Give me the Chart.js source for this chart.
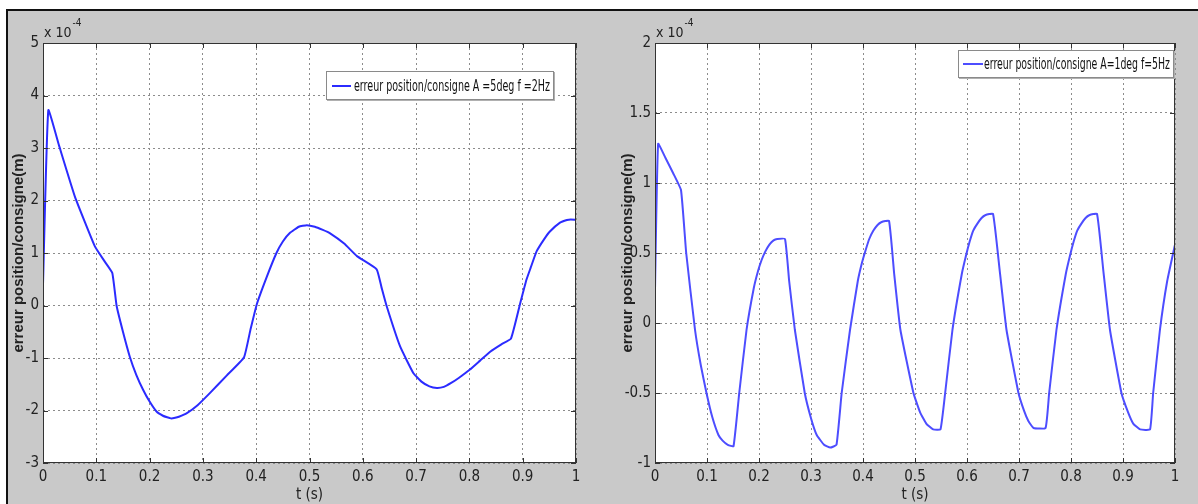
<!DOCTYPE html>
<html>
<head>
<meta charset="utf-8">
<script src="https://cdn.jsdelivr.net/npm/chart.js@4.4.1/dist/chart.umd.min.js"></script>
<style>
    html, body { margin: 0; padding: 0; background: #fff; }
    body { width: 1198px; height: 504px; position: relative; overflow: hidden;
           font-family: 'Liberation Sans Narrow', 'DejaVu Sans Condensed', 'Liberation Sans', Arial, sans-serif; }
    #frame { position: absolute; left: 6px; top: 9px; width: 1200px; height: 500px;
             background: #c9c9c9; border-left: 2px solid #111; border-top: 2px solid #111; }
    canvas { position: absolute; top: 0; }
    #chart1 { left: 0; }
    #chart2 { left: 600px; }
    .legend { position: absolute; background: #fff; border: 1px solid #8a8a8a;
              box-shadow: 1px 1px 0 #b0b0b0; white-space: nowrap; overflow: hidden; }
    .legend .sample { position: absolute; height: 2px; }
    .legend .txt { position: absolute; display: inline-block; transform-origin: 0 50%;
                   font-size: 16px; color: #111; line-height: 16px; }
</style>
</head>
<body>
<div id="frame"></div>
<canvas id="chart1" width="600" height="504" style="width:600px;height:504px"></canvas>
<canvas id="chart2" width="598" height="504" style="width:598px;height:504px"></canvas>
<div id="legend1" class="legend" style="left:326px;top:71px;width:226px;height:27px"></div>
<div id="legend2" class="legend" style="left:958px;top:50px;width:214px;height:26px"></div>
<script>
// valeurs (unite : x 10^-4 m)
var expLabel = "-4";
var xTicks = [0, 0.1, 0.2, 0.3, 0.4, 0.5, 0.6, 0.7, 0.8, 0.9, 1];
var yTicksLeft = [-3, -2, -1, 0, 1, 2, 3, 4, 5];
var yTicksRight = [-1, -0.5, 0, 0.5, 1, 1.5, 2];

var labelLeft = "erreur position/consigne A =5deg f =2Hz";
var tLeft = [0, 0.01, 0.03, 0.06, 0.0976, 0.115, 0.13, 0.138, 0.15, 0.163, 0.175, 0.188, 0.2, 0.213, 0.225,
    0.233, 0.24, 0.248, 0.255, 0.27, 0.29, 0.313, 0.345, 0.377, 0.389, 0.401, 0.42, 0.438, 0.45, 0.463, 0.48,
    0.495, 0.51, 0.525, 0.538, 0.565, 0.589, 0.626, 0.635, 0.645, 0.67, 0.695, 0.71, 0.725, 0.739, 0.752,
    0.765, 0.78, 0.801, 0.82, 0.839, 0.86, 0.878, 0.895, 0.907, 0.915, 0.926, 0.94, 0.951, 0.97, 0.983,
    0.99, 1.0];
var errLeft = [0.4, 3.72, 3.05, 2.07, 1.12, 0.85, 0.62, 0.0, -0.5, -0.98, -1.32, -1.61, -1.83, -2.02, -2.1,
    -2.13, -2.15, -2.14, -2.12, -2.05, -1.9, -1.67, -1.33, -0.99, -0.47, 0.02, 0.55, 1.0, 1.22, 1.38, 1.5,
    1.53, 1.5, 1.44, 1.38, 1.18, 0.94, 0.69, 0.35, -0.02, -0.78, -1.29, -1.45, -1.54, -1.57, -1.55,
    -1.48, -1.38, -1.22, -1.05, -0.88, -0.74, -0.63, 0.03, 0.49, 0.72, 1.03, 1.26, 1.41, 1.58, 1.63,
    1.64, 1.63];

var labelRight = "erreur position/consigne A=1deg f=5Hz";
var tRight = [0, 0.006, 0.02, 0.035, 0.05, 0.06, 0.077, 0.088, 0.099, 0.11, 0.122, 0.13, 0.14, 0.151, 0.162,
    0.176, 0.19, 0.198, 0.205, 0.212, 0.22, 0.228, 0.235, 0.25, 0.258, 0.269, 0.288, 0.3, 0.311, 0.325,
    0.337, 0.349, 0.359, 0.375, 0.39, 0.398, 0.405, 0.412, 0.42, 0.428, 0.435, 0.45, 0.46, 0.472, 0.497,
    0.51, 0.522, 0.535, 0.549, 0.558, 0.572, 0.59, 0.598, 0.605, 0.612, 0.62, 0.628, 0.635, 0.65, 0.663,
    0.676, 0.699, 0.71, 0.718, 0.728, 0.751, 0.758, 0.772, 0.79, 0.798, 0.805, 0.812, 0.82, 0.828, 0.835,
    0.85, 0.862, 0.875, 0.897, 0.91, 0.92, 0.933, 0.952, 0.958, 0.971, 0.985, 1.0];
var errRight = [0.24, 1.28, 1.18, 1.07, 0.95, 0.5, -0.05, -0.3, -0.5, -0.67, -0.8, -0.84, -0.87, -0.88, -0.5,
    -0.05, 0.25, 0.37, 0.45, 0.51, 0.56, 0.59, 0.6, 0.6, 0.3, -0.05, -0.5, -0.68, -0.8, -0.87,
    -0.89, -0.87, -0.5, -0.05, 0.3, 0.43, 0.52, 0.6, 0.66, 0.7, 0.72, 0.73, 0.35, -0.05, -0.5,
    -0.64, -0.72, -0.76, -0.76, -0.5, -0.05, 0.35, 0.48, 0.58, 0.66, 0.71, 0.75, 0.77, 0.78, 0.37,
    -0.05, -0.5, -0.63, -0.7, -0.75, -0.75, -0.5, -0.05, 0.35, 0.48, 0.58, 0.66, 0.71, 0.75, 0.77,
    0.78, 0.38, -0.05, -0.5, -0.64, -0.72, -0.76, -0.76, -0.5, -0.05, 0.3, 0.56];

var narrow = "'Liberation Sans Narrow', 'DejaVu Sans Condensed', 'Liberation Sans', Arial, sans-serif";

function toPoints(xs, ys) {
    return xs.map(function (x, i) { return { x: x, y: ys[i] }; });
}

// fond blanc, cadre, graduations internes et "x 10^-4" facon matlab
var matlabAxes = {
    id: "matlabAxes",
    beforeDraw: function (chart) {
        var a = chart.chartArea, ctx = chart.ctx;
        ctx.save();
        ctx.fillStyle = "#fff";
        ctx.fillRect(a.left, a.top, a.right - a.left, a.bottom - a.top);
        ctx.restore();
    },
    afterDraw: function (chart) {
        var a = chart.chartArea, ctx = chart.ctx;
        var sx = chart.scales.x, sy = chart.scales.y;
        ctx.save();
        ctx.strokeStyle = "#333";
        ctx.lineWidth = 1;
        ctx.strokeRect(a.left + 0.5, a.top + 0.5, a.right - a.left - 1, a.bottom - a.top - 1);
        ctx.beginPath();
        sx.ticks.forEach(function (t) {
            var px = Math.round(sx.getPixelForValue(t.value)) + 0.5;
            ctx.moveTo(px, a.bottom); ctx.lineTo(px, a.bottom - 5);
            ctx.moveTo(px, a.top); ctx.lineTo(px, a.top + 5);
        });
        sy.ticks.forEach(function (t) {
            var py = Math.round(sy.getPixelForValue(t.value)) + 0.5;
            ctx.moveTo(a.left, py); ctx.lineTo(a.left + 5, py);
            ctx.moveTo(a.right, py); ctx.lineTo(a.right - 5, py);
        });
        ctx.stroke();
        ctx.fillStyle = "#222";
        ctx.textBaseline = "middle";
        ctx.font = "14px " + narrow;
        ctx.fillText("x 10", a.left + 1, a.top - 10);
        var w = ctx.measureText("x 10").width;
        ctx.font = "10px " + narrow;
        ctx.fillText(expLabel, a.left + 2 + w, a.top - 20);
        ctx.restore();
    }
};

function makeChart(id, xs, ys, label, color, yTicks, yMin, yMax, pad, yWidth) {
    var ctx = document.getElementById(id).getContext("2d");
    return new Chart(ctx, {
        type: "line",
        data: {
            datasets: [{
                label: label,
                data: toPoints(xs, ys),
                borderColor: color,
                borderWidth: 2,
                borderJoinStyle: "round",
                pointRadius: 0,
                fill: false,
                tension: 0.12
            }]
        },
        options: {
            responsive: false,
            animation: false,
            devicePixelRatio: 1,
            layout: { padding: pad },
            plugins: { legend: { display: false }, tooltip: { enabled: false } },
            scales: {
                x: {
                    type: "linear",
                    min: 0,
                    max: 1,
                    afterBuildTicks: function (s) { s.ticks = xTicks.map(function (v) { return { value: v }; }); },
                    afterFit: function (s) { s.height = 41; },
                    ticks: {
                        color: "#222",
                        padding: 5,
                        maxRotation: 0,
                        font: { family: narrow, size: 15 },
                        callback: function (v) { return String(v); }
                    },
                    grid: { color: "#8c8c8c", drawTicks: false, lineWidth: 1 },
                    border: { display: false, dash: [2, 3] },
                    title: {
                        display: true,
                        text: "t (s)",
                        color: "#222",
                        padding: { top: 0, bottom: 0 },
                        font: { family: narrow, size: 15 }
                    }
                },
                y: {
                    type: "linear",
                    min: yMin,
                    max: yMax,
                    afterBuildTicks: function (s) { s.ticks = yTicks.map(function (v) { return { value: v }; }); },
                    afterFit: function (s) { s.width = yWidth; },
                    ticks: {
                        color: "#222",
                        padding: 4,
                        font: { family: narrow, size: 15 },
                        callback: function (v) { return String(v); }
                    },
                    grid: { color: "#8c8c8c", drawTicks: false, lineWidth: 1 },
                    border: { display: false, dash: [2, 3] },
                    title: {
                        display: true,
                        text: "erreur position/consigne(m)",
                        color: "#222",
                        padding: { top: 3, bottom: 0 },
                        font: { family: "'Liberation Sans', Arial, sans-serif", size: 15, weight: "bold" }
                    }
                }
            }
        },
        plugins: [matlabAxes]
    });
}

var myChart1 = makeChart("chart1", tLeft, errLeft, labelLeft, "#2b2bff", yTicksLeft, -3, 5,
    { top: 43, right: 24, bottom: 0, left: 7 }, 36);
var myChart2 = makeChart("chart2", tRight, errRight, labelRight, "#4d4dff", yTicksRight, -1, 2,
    { top: 43, right: 23, bottom: 0, left: 16 }, 39);

// legendes dans le cadre, comme matlab
function buildLegend(divId, chart, sampleLeft, sampleW, textLeft, textW) {
    var div = document.getElementById(divId);
    var ds = chart.data.datasets[0];
    var h = div.clientHeight;
    var sample = document.createElement("span");
    sample.className = "sample";
    sample.style.background = ds.borderColor;
    sample.style.left = sampleLeft + "px";
    sample.style.width = sampleW + "px";
    sample.style.top = (h / 2 - 1) + "px";
    div.appendChild(sample);
    var txt = document.createElement("span");
    txt.className = "txt";
    txt.textContent = ds.label;
    txt.style.left = textLeft + "px";
    txt.style.top = (h / 2 - 8) + "px";
    div.appendChild(txt);
    txt.style.transform = "scaleX(" + (textW / txt.offsetWidth) + ")";
}
buildLegend("legend1", myChart1, 5, 19, 27, 196);
buildLegend("legend2", myChart2, 4, 20, 25, 186);
</script>
</body>
</html>
